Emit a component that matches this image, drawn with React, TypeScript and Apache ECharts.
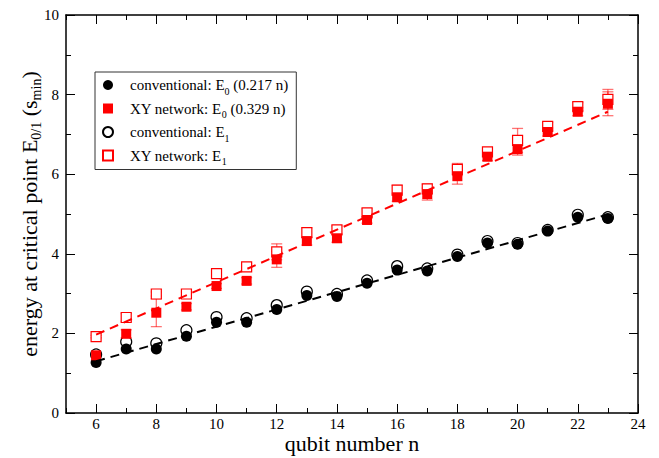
import React, { useEffect, useRef } from 'react';
import * as echarts from 'echarts';

const qubits = [6, 7, 8, 9, 10, 11, 12, 13, 14, 15, 16, 17, 18, 19, 20, 21, 22, 23];
const convE0 = [1.27, 1.61, 1.61, 1.93, 2.28, 2.28, 2.6, 2.95, 2.93, 3.26, 3.59, 3.57, 3.93, 4.27, 4.24, 4.57, 4.92, 4.89];
const convE1 = [1.47, 1.79, 1.75, 2.08, 2.41, 2.38, 2.71, 3.05, 2.99, 3.33, 3.69, 3.63, 3.98, 4.32, 4.27, 4.6, 4.98, 4.92];
const xyE0 = [1.45, 1.99, 2.52, 2.67, 3.19, 3.32, 3.86, 4.32, 4.39, 4.85, 5.42, 5.5, 5.95, 6.44, 6.63, 7.06, 7.57, 7.77];
const xyE1 = [1.92, 2.4, 2.99, 2.99, 3.5, 3.67, 4.05, 4.53, 4.6, 5.03, 5.6, 5.63, 6.12, 6.56, 6.85, 7.2, 7.7, 7.88];
const xyE0Err = [0.05, 0.1, 0.35, 0.08, 0.06, 0.08, 0.2, 0.1, 0.1, 0.08, 0.1, 0.15, 0.2, 0.1, 0.15, 0.1, 0.1, 0.3];
const xyE1Err = [0.03, 0.1, 0.05, 0.05, 0.06, 0.08, 0.2, 0.12, 0.1, 0.1, 0.12, 0.12, 0.15, 0.1, 0.3, 0.1, 0.1, 0.25];
const convFit = [[6, 1.3], [23, 4.99]];
const xyFit = [[6, 1.97], [23, 7.57]];
const xMajorTicks = [6, 8, 10, 12, 14, 16, 18, 20, 22, 24];

const names = ['conventional: E0 (0.217 n)', 'XY network: E0 (0.329 n)', 'conventional: E1', 'XY network: E1'];
const richNames: Record<string, string> = {
  'conventional: E0 (0.217 n)': 'conventional: E{s|0} (0.217 n)',
  'XY network: E0 (0.329 n)': 'XY network: E{s|0} (0.329 n)',
  'conventional: E1': 'conventional: E{s|1}',
  'XY network: E1': 'XY network: E{s|1}',
};

const serif = 'Liberation Serif';
const RED = '#ff0000';
const ERR = 'rgba(255,0,0,0.55)';

function errData(vals: number[], errs: number[]) {
  return qubits.map((x, i) => [x, vals[i] - errs[i], vals[i] + errs[i]]);
}

function errSeries(vals: number[], errs: number[]) {
  return {
    type: 'custom',
    data: errData(vals, errs),
    encode: { x: 0, y: [1, 2] },
    silent: true,
    renderItem: (_p: any, api: any) => {
      const x = api.value(0);
      const lo = api.coord([x, api.value(1)]);
      const hi = api.coord([x, api.value(2)]);
      const w = 5.5;
      const style = { stroke: ERR, lineWidth: 1.3 };
      return {
        type: 'group',
        children: [
          { type: 'line', shape: { x1: lo[0], y1: lo[1], x2: hi[0], y2: hi[1] }, style },
          { type: 'line', shape: { x1: lo[0] - w, y1: lo[1], x2: lo[0] + w, y2: lo[1] }, style },
          { type: 'line', shape: { x1: hi[0] - w, y1: hi[1], x2: hi[0] + w, y2: hi[1] }, style },
        ],
      };
    },
  };
}

export default function App() {
  const ref = useRef<HTMLDivElement>(null);
  useEffect(() => {
    const chart = echarts.init(ref.current!, null, { renderer: 'svg' });
    const axisLine = { show: true, lineStyle: { color: '#000', width: 1.5 } };
    const xBase = { type: 'value', min: 5, max: 24, interval: 1, splitLine: { show: false } };
    const yBase = { type: 'value', min: 0, max: 10, interval: 2, splitLine: { show: false } };
    const option: any = {
      animation: false,
      backgroundColor: '#fff',
      grid: { left: 66, right: 21, top: 15, bottom: 45, containLabel: false, outerBoundsMode: 'none' },
      legend: {
        orient: 'vertical',
        left: 95,
        top: 72,
        padding: [2, 8, 3, 7],
        itemWidth: 10,
        itemHeight: 10,
        itemGap: 1.5,
        borderColor: '#333',
        borderWidth: 1,
        backgroundColor: '#fff',
        selectedMode: false,
        data: [
          { name: names[0], icon: 'circle' },
          { name: names[1], icon: 'rect' },
          { name: names[2], icon: 'circle' },
          { name: names[3], icon: 'rect' },
        ],
        formatter: (n: string) => richNames[n] || n,
        textStyle: {
          fontFamily: serif,
          fontSize: 15,
          color: '#000',
          lineHeight: 22,
          padding: [0, 0, 0, 12],
          rich: {
            s: { fontFamily: serif, fontSize: 10, color: '#000', lineHeight: 10, verticalAlign: 'bottom' },
          },
        },
      },
      xAxis: [
        {
          ...xBase,
          position: 'bottom',
          axisLine,
          axisTick: { show: true, inside: true, length: 9, customValues: xMajorTicks, lineStyle: { color: '#000', width: 1 } },
          axisLabel: {
            customValues: xMajorTicks,
            formatter: (v: number) => (v % 2 === 0 && v > 5 ? String(v) : ''),
            fontFamily: serif,
            fontSize: 15,
            color: '#000',
            margin: 3,
          },
          name: 'qubit number n',
          nameLocation: 'middle',
          nameGap: 19,
          nameMoveOverlap: false,
          nameTextStyle: { fontFamily: serif, fontSize: 22, color: '#000', verticalAlign: 'top', lineHeight: 22 },
        },
        {
          ...xBase,
          position: 'bottom',
          axisLine: { show: false },
          axisTick: { show: true, inside: true, length: 5, lineStyle: { color: '#000', width: 1 } },
          axisLabel: { show: false },
        },
        {
          ...xBase,
          position: 'top',
          axisLine,
          axisTick: { show: true, inside: true, length: 9, customValues: xMajorTicks, lineStyle: { color: '#000', width: 1 } },
          axisLabel: { show: false },
        },
        {
          ...xBase,
          position: 'top',
          axisLine: { show: false },
          axisTick: { show: true, inside: true, length: 5, lineStyle: { color: '#000', width: 1 } },
          axisLabel: { show: false },
        },
      ],
      yAxis: [
        {
          ...yBase,
          position: 'left',
          axisLine,
          axisTick: { show: true, inside: true, length: 9, lineStyle: { color: '#000', width: 1 } },
          minorTick: { show: true, splitNumber: 2, length: 5, lineStyle: { color: '#000', width: 1 } },
          axisLabel: { fontFamily: serif, fontSize: 15, color: '#000', margin: 7 },
          name: 'energy at critical point E{s|0/1} (s{s|min})',
          nameLocation: 'middle',
          nameGap: 23,
          nameMoveOverlap: false,
          nameRotate: 90,
          nameTextStyle: {
            fontFamily: serif,
            fontSize: 22,
            color: '#000',
            lineHeight: 28,
            rich: { s: { fontFamily: serif, fontSize: 14, color: '#000', lineHeight: 12, verticalAlign: 'bottom' } },
          },
        },
        {
          ...yBase,
          position: 'right',
          axisLine,
          axisTick: { show: true, inside: true, length: 9, lineStyle: { color: '#000', width: 1 } },
          minorTick: { show: true, splitNumber: 2, length: 5, lineStyle: { color: '#000', width: 1 } },
          axisLabel: { show: false },
        },
      ],
      series: [
        errSeries(xyE1, xyE1Err),
        errSeries(xyE0, xyE0Err),
        {
          type: 'line',
          data: convFit,
          symbol: 'none',
          lineStyle: { color: '#000', width: 2, type: [9, 6] },
          silent: true,
          z: 3,
        },
        {
          type: 'line',
          data: xyFit,
          symbol: 'none',
          lineStyle: { color: RED, width: 2, type: [9, 6] },
          silent: true,
          z: 3,
        },
        {
          name: names[2],
          type: 'scatter',
          data: qubits.map((x, i) => [x, convE1[i]]),
          symbol: 'circle',
          symbolSize: 11,
          itemStyle: { color: '#fff', borderColor: '#000', borderWidth: 1.2, opacity: 1 },
        },
        {
          name: names[3],
          type: 'scatter',
          data: qubits.map((x, i) => [x, xyE1[i]]),
          symbol: 'rect',
          symbolSize: 10,
          itemStyle: { color: '#fff', borderColor: RED, borderWidth: 1.2, opacity: 1 },
        },
        {
          name: names[0],
          type: 'scatter',
          data: qubits.map((x, i) => [x, convE0[i]]),
          symbol: 'circle',
          symbolSize: 11,
          itemStyle: { color: '#000', opacity: 1 },
        },
        {
          name: names[1],
          type: 'scatter',
          data: qubits.map((x, i) => [x, xyE0[i]]),
          symbol: 'rect',
          symbolSize: 10,
          itemStyle: { color: RED, opacity: 1 },
        },
      ],
    };
    chart.setOption(option);
    return () => chart.dispose();
  }, []);
  return <div ref={ref} style={{ position: 'fixed', left: 0, top: 0, width: 659, height: 458 }} />;
}
